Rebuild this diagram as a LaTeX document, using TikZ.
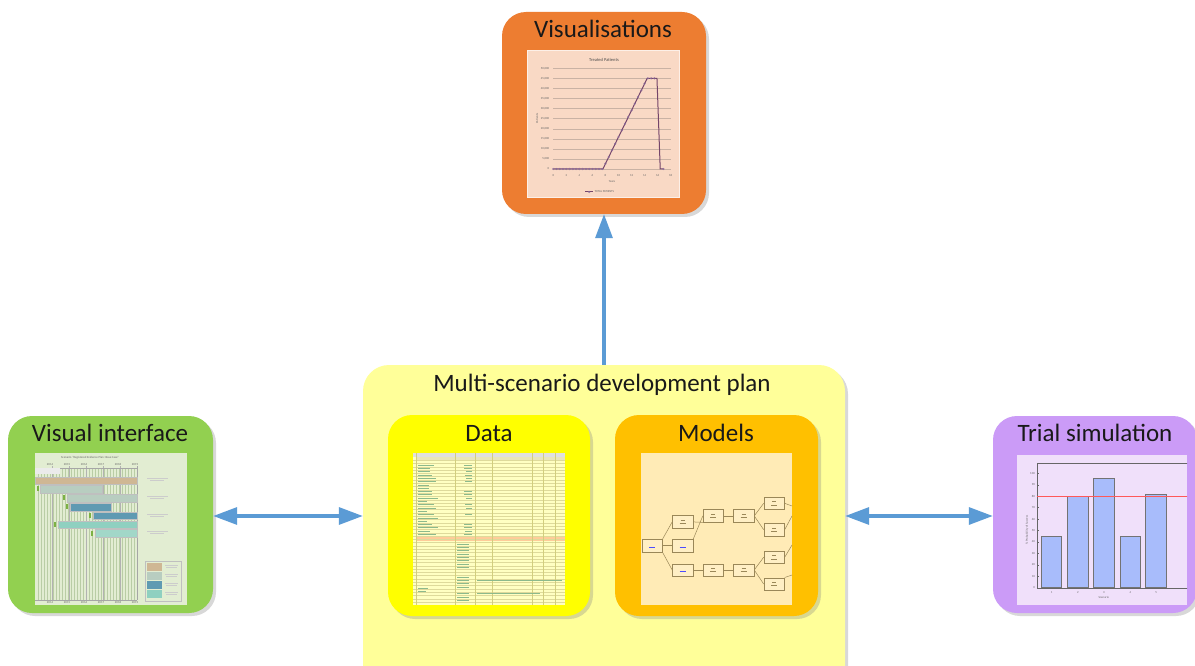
\documentclass[tikz,border=0pt]{standalone}
\usepackage{fontspec}
\setmainfont{Carlito}
\usetikzlibrary{shadows,arrows.meta,calc}
\definecolor{visorange}{HTML}{ED7D31}
\definecolor{vigreen}{HTML}{92D050}
\definecolor{tspurple}{HTML}{CB9BF7}
\definecolor{planyellow}{HTML}{FFFF99}
\definecolor{datayellow}{HTML}{FFFF00}
\definecolor{modelgold}{HTML}{FFC000}
\definecolor{arrowblue}{HTML}{5B9BD5}
\definecolor{visbg}{HTML}{F9D9C5}
\definecolor{visgrid}{HTML}{C9B2A4}
\definecolor{vibg}{HTML}{E2EDD2}
\definecolor{vigrid}{HTML}{B9CDA5}
\definecolor{gtan}{HTML}{CFB794}
\definecolor{ggray}{HTML}{B8CDC0}
\definecolor{gblue}{HTML}{5F9AB2}
\definecolor{gteal}{HTML}{8FD0C0}
\definecolor{gteal2}{HTML}{A2D7C8}
\definecolor{tsbg}{HTML}{F0E0FA}
\definecolor{databg}{HTML}{FFFFC2}
\definecolor{modelbg}{HTML}{FFEBB6}
\definecolor{pline}{HTML}{74456A}
\definecolor{pmark}{HTML}{8A6A9A}
\definecolor{netline}{HTML}{9A8758}
\definecolor{barblue}{HTML}{A8BCFB}
\tikzset{
  card/.style={rounded corners=24pt, inner sep=0pt, draw=none,
    drop shadow={shadow xshift=3pt,shadow yshift=-3pt,opacity=.3}},
  ttl/.style={font=\fontsize{25}{28}\selectfont, inner sep=0pt, anchor=base, text=black!90},
  link/.style={draw=arrowblue, line width=3.3pt, -{Triangle[length=24pt,width=17pt]}},
  dlink/.style={draw=arrowblue, line width=3.3pt, {Triangle[length=24pt,width=17pt]}-{Triangle[length=24pt,width=17pt]}},
  tiny/.style={font=\fontsize{3}{3.5}\selectfont, inner sep=0pt, text=black!60},
  grid/.style={draw=visgrid, line width=0.35pt},
  gbar/.style={draw=black!25, line width=0.3pt},
  netbox/.style={draw=netline, fill=modelbg!80!white, line width=0.5pt, minimum width=20.5pt, minimum height=12.5pt, inner sep=0pt},
  netln/.style={draw=netline, line width=0.5pt},
  bar/.style={draw=black!55, fill=barblue, line width=0.5pt},
}
\begin{document}
\begin{tikzpicture}[x=1pt,y=-1pt]
\useasboundingbox (0,0) rectangle (1195,666);
\fill[white] (0,0) rectangle (1195,666);

% ---------- boxes ----------
\node[card, fill=planyellow, minimum width=482pt, minimum height=330pt, rounded corners=26pt] (plan) at (604,530) {};
\node[card, fill=visorange, minimum width=204pt, minimum height=202pt] (vis) at (604,113) {};
\node[card, fill=vigreen, minimum width=205pt, minimum height=197pt] (vi) at (110.5,514.5) {};
\node[card, fill=tspurple, minimum width=204pt, minimum height=197pt] (ts) at (1095,514.5) {};
\node[card, fill=datayellow, minimum width=202pt, minimum height=201pt] (data) at (489,515.5) {};
\node[card, fill=modelgold, minimum width=203pt, minimum height=201pt] (models) at (716.5,515.5) {};

% ---------- titles ----------
\node[ttl] (tvis) at (603,38) {Visualisations};
\node[ttl] (tvi) at (110,441.5) {Visual interface};
\node[ttl] (tts) at (1095,441.5) {Trial simulation};
\node[ttl] (tplan) at (602,391) {Multi-scenario development plan};
\node[ttl] (tdata) at (489,441.5) {Data};
\node[ttl] (tmodels) at (716,441.5) {Models};

% ---------- Visualisations chart ----------
\filldraw[fill=visbg, draw=white!60!visbg, line width=0.6pt] (527,50) rectangle (679,197);
\node[font=\fontsize{4.5}{5}\selectfont, inner sep=0pt, text=black!70] (chtitle) at (604,60) {Treated Patients};
\begin{scope}[shift={(553.3,169)}, x=6.52pt, y=2.014pt]
  \foreach \k in {0,5,...,50} \draw[grid] (0,\k) -- (18,\k);
  \foreach \k/\l in {0/0,5/{5,000},10/{10,000},15/{15,000},20/{20,000},25/{25,000},30/{30,000},35/{35,000},40/{40,000},45/{45,000},50/{50,000}}
    \node[tiny, anchor=east] at (-0.6,\k) {\l};
  \foreach \t in {0,2,...,18} \node[tiny] at (\t,-3) {\t};
  \node[tiny] (yrs) at (9,-6) {Years};
  \node[tiny, rotate=90] (pat) at (-2.5,25) {Patients};
  \draw[pline, line width=1pt] (0,0) -- (7.6,0) -- (14.4,45) -- (15.9,45) -- (16.4,0) -- (16.9,0);
  \foreach \t in {0,0.5,...,7.5} \draw[pmark, line width=0.35pt] (\t,0) circle (0.9pt);
  \foreach \t in {8,8.5,...,14} \draw[pmark, line width=0.35pt] (\t,{(\t-7.6)/6.8*45}) circle (0.9pt);
  \foreach \t in {14.5,15,15.5} \draw[pmark, line width=0.35pt] (\t,45) circle (0.9pt);
  \draw[pmark, line width=0.35pt] (16.9,0) circle (0.9pt);
  \draw[pline, line width=1pt] (4.9,-11.4) -- (6.1,-11.4);
  \draw[pmark, line width=0.35pt] (5.5,-11.4) circle (0.9pt);
  \node[tiny, anchor=west] (leg) at (6.3,-11.4) {TOTAL PATIENTS};
\end{scope}

% ---------- Visual interface (Gantt) ----------
\fill[vibg] (35,453) rectangle (187,605);
\node[tiny] (gtitle) at (90,457.5) {Scenario ``Registered Evidence Plan: Base Case''};
\foreach \x in {38,41,...,137} \draw[draw=vigrid, line width=0.25pt] (\x,468) -- (\x,600);
\foreach \x in {52,69,86,103,120} \draw[draw=black!30, line width=0.35pt] (\x,466) -- (\x,600);
\draw[draw=black!35, line width=0.4pt] (35,468) -- (137,468) (35,600) -- (137,600) (137,466) -- (137,600);
\foreach \x/\y in {50/2014,67/2015,84/2016,101/2017,118/2018,135/2019} {
  \node[tiny] at (\x,464.5) {\y};
  \node[tiny] at (\x,602.5) {\y};
}
\fill[fill=black!8] (35,468) rectangle (60,474);
\filldraw[gbar, fill=gtan] (35,476.7) rectangle (137,484);
\filldraw[gbar, fill=ggray] (40,485) rectangle (102,492.7);
\filldraw[gbar, fill=ggray] (67,494) rectangle (137,501.7);
\filldraw[gbar, fill=gblue] (70,502.7) rectangle (111,510.7);
\filldraw[gbar, fill=gblue] (93,511.7) rectangle (137,519.3);
\filldraw[gbar, fill=gteal] (58,520.7) rectangle (137,528.3);
\filldraw[gbar, fill=gteal2] (95,529.3) rectangle (137,537.3);
\foreach \x/\y in {37/486,63/495,66/504,89/513,54/522,91/531} \fill[vigreen!85!black] (\x,\y) rectangle ++(2,5);
\foreach \y in {480,498,516,533} {
  \draw[black!20, line width=0.6pt] (147,\y-1.5) -- (168,\y-1.5);
  \draw[black!20, line width=0.6pt] (150,\y+0.5) -- (164,\y+0.5);
}
\draw[black!25, line width=0.3pt] (145,561) rectangle (181,601);
\fill[gtan] (147,563) rectangle (162,571);
\fill[ggray] (147,572) rectangle (162,580);
\fill[gblue] (147,581) rectangle (162,589);
\fill[gteal] (147,590) rectangle (162,598);
\foreach \y in {565,574,583,592} \draw[black!20, line width=0.5pt] (165,\y) -- (178,\y) (166,\y+2.5) -- (177,\y+2.5);

% ---------- Data (spreadsheet) ----------
\fill[databg] (413,453) rectangle (565,605);
\fill[black!12] (413,453) rectangle (565,456.5);
\fill[olive!20] (416,456.5) rectangle (565,460);
\fill[orange!40] (416,537) rectangle (565,540.5);
\foreach \y in {460,463.3,...,604} \draw[draw=olive!30, line width=0.2pt] (413,\y) -- (565,\y);
\foreach \x in {416,455,475,492,532,543,555} \draw[draw=olive!40, line width=0.3pt] (\x,453) -- (\x,605);
\foreach \y/\w in {465/16,468.3/12,471.6/12,474.9/14,478.2/18,481.5/18,484.8/11,488.1/11,491.4/14,494.7/14,498/20,501.3/9,504.6/16,507.9/18,511.2/9,514.5/16,517.8/20,521.1/9,524.4/14,527.7/20,531/12,534.3/18,588/10,591.3/8}
  \draw[draw=green!40!black!45, line width=0.6pt] (418,\y) -- ++(\w,0);
\foreach \y/\w in {465/8,468.3/8,471.6/6,474.9/7,478.2/6,481.5/7,491.4/8,494.7/8,498/6,504.6/7,507.9/6,514.5/7,524.4/8,527.7/8,531/7,534.3/8}
  \draw[draw=green!40!black!45, line width=0.6pt] (472,\y) -- ++(-\w,0);
\foreach \y in {544,547.3,550.6,553.9,557.2,560.5,563.8,567.1,577,580.3,583.6,586.9,593.5,596.8,600.1}
  \draw[draw=green!40!black!45, line width=0.6pt] (457,\y) -- ++(12,0);
\draw[draw=green!40!black!45, line width=0.6pt] (477,580.3) -- (562,580.3) (477,593.5) -- (540,593.5);

% ---------- Models (network) ----------
\fill[modelbg] (641,453) rectangle (792,605);
\node[netbox] (nA) at (652,545.7) {};
\node[netbox] (nB) at (682.7,521.9) {};
\node[netbox] (nC) at (682.7,545.7) {};
\node[netbox] (nD) at (682.7,570) {};
\node[netbox] (nE) at (713.3,515.9) {};
\node[netbox] (nF) at (743.7,515.9) {};
\node[netbox] (nG) at (774.2,503.3) {};
\node[netbox] (nH) at (774.2,529.7) {};
\node[netbox] (nI) at (713.3,570) {};
\node[netbox] (nJ) at (743.7,570) {};
\node[netbox] (nK) at (774.2,557.2) {};
\node[netbox] (nL) at (774.2,584) {};
\draw[netln] (nA.north east) -- (nB.west);
\draw[netln] (nA.east) -- (nC.west);
\draw[netln] (nA.south east) -- (nD.west);
\draw[netln] (nC.north east) -- (nE.west);
\draw[netln] (nB.east) -- (nE.south west);
\draw[netln] (nE.east) -- (nF.west);
\draw[netln] (nF.east) -- (nG.west);
\draw[netln] (nF.east) -- (nH.west);
\draw[netln] (nD.east) -- (nI.west);
\draw[netln] (nI.east) -- (nJ.west);
\draw[netln] (nJ.east) -- (nK.west);
\draw[netln] (nJ.east) -- (nL.west);
\coordinate (eG) at (792,506);
\coordinate (eH) at (792,516);
\coordinate (eK) at (792,545);
\coordinate (eL) at (792,575);
\draw[netln] (nG.east) -- (eG);
\draw[netln] (nH.east) -- (eH);
\draw[netln] (nK.east) -- (eK);
\draw[netln] (nL.north east) -- (eL);
\foreach \n in {nA,nC,nD} \draw[blue!70, line width=0.5pt] ($(\n.center)+(-3,1.5)$) -- ++(6,0);
\foreach \n in {nB,nE,nF,nG,nH,nI,nJ,nK,nL} \draw[netline, line width=0.4pt] ($(\n.center)+(-3,1.5)$) -- ++(6,0) ($(\n.center)+(-2,-2)$) -- ++(4,0);

% ---------- Trial simulation chart ----------
\fill[tsbg] (1017,455) rectangle (1187,605);
\begin{scope}
  \clip (1017,455) rectangle (1187,605);
  \draw[black!60, line width=0.4pt] (1037,463) -- (1037,588) -- (1192,588) (1037,463) -- (1192,463);
  \foreach \k in {0,10,...,100} {
    \draw[black!60, line width=0.3pt] (1037,{587.7-\k*1.144}) -- ++(2,0);
    \node[tiny, anchor=east] at (1035,{587.7-\k*1.144}) {\k};
  }
  \draw[bar] (1041.7,587.7) rectangle (1061.7,536.2);
  \draw[bar] (1067.3,587.7) rectangle (1088.3,496.2);
  \draw[bar] (1093.3,587.7) rectangle (1114.3,477.9);
  \draw[bar] (1120,587.7) rectangle (1140.7,536.2);
  \draw[bar] (1145.7,587.7) rectangle (1166.7,493.9);
  \draw[red!65, line width=0.6pt] (1037,496.2) -- (1192,496.2);
  \foreach \i/\x in {1/1051.7,2/1077.8,3/1103.8,4/1130.3,5/1156.2} \node[tiny] at (\x,592.7) {\i};
  \node[tiny] (scen) at (1103.8,597) {Scenario};
  \node[tiny, rotate=90] (pos) at (1027,530) {\% Probability of Success};
\end{scope}

% ---------- connectors ----------
\coordinate (midrow) at (0,516);
\draw[link] (plan.north) -- (vis.south);
\draw[dlink] (vi.east |- midrow) -- (plan.west |- midrow);
\draw[dlink] (plan.east |- midrow) -- (ts.west |- midrow);
\end{tikzpicture}
\end{document}
